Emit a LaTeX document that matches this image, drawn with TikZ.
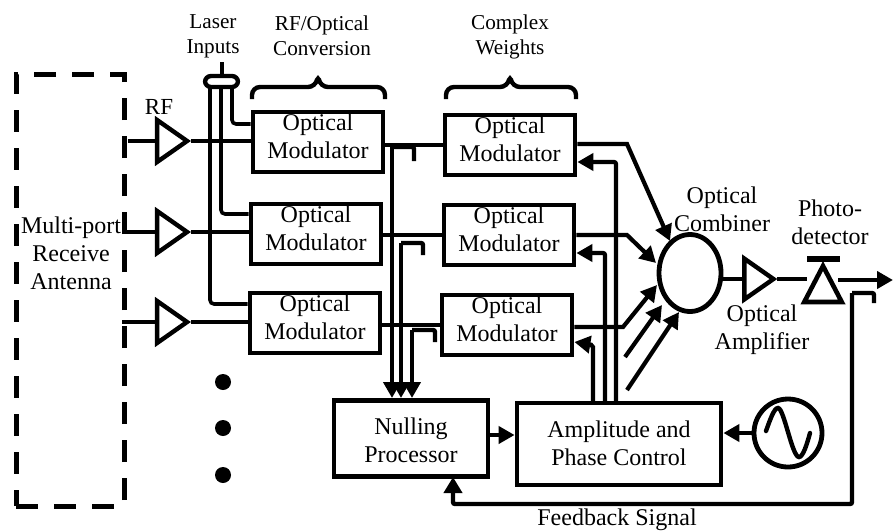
\documentclass[tikz,border=0pt]{standalone}
\usepackage{fontspec}
\setmainfont{Liberation Serif}
\usetikzlibrary{arrows.meta,calc,positioning,shapes.geometric}

\tikzset{
  modbox/.style={draw, line width=2.4pt, minimum width=65pt, minimum height=30pt, inner sep=0pt, align=center},
  procbox/.style={draw, line width=2.4pt, inner sep=0pt, align=center},
  ampl/.style={draw, line width=2.2pt, isosceles triangle, isosceles triangle apex angle=70, inner sep=0pt, minimum height=15pt},
  lbl/.style={align=center, inner sep=0pt},
  toplbl/.style={align=center, inner sep=0pt, font=\fontsize{10.6}{12.6}\selectfont},
  wire/.style={line width=1.8pt},
  bus/.style={line width=2.1pt, -{Triangle[length=8pt,width=8.5pt]}},
  tap/.style={line width=2.2pt, rounded corners=1pt}
}

\begin{document}
\begin{tikzpicture}[x=0.5pt, y=-0.5pt, every node/.style={font=\fontsize{12}{14}\selectfont}]
  \useasboundingbox (0,0) rectangle (893,531);

  % antenna
  \node[draw, line width=2.5pt, minimum width=54pt, minimum height=216pt, dash pattern=on 11pt off 8pt, inner sep=0pt] (antenna) at (70,290) {};
  \node[lbl] (antlabel) at (71,253) {Multi-port\\Receive\\Antenna};
  \coordinate (ant1) at (128,141);
  \coordinate (ant2) at (122,232);
  \coordinate (ant3) at (122,322);

  % modulators, first column and weights
  \foreach \i/\xa/\ya/\xb/\yb in {1/318/142/510/145,2/316/234/509/235,3/315/323/507/325} {
    \node[modbox] (conv\i) at (\xa,\ya) {};
    \node[lbl] at ($(conv\i)+(0,-6)$) {Optical\\Modulator};
    \node[modbox] (wt\i) at (\xb,\yb) {};
    \node[lbl] at ($(wt\i)+(0,-6)$) {Optical\\Modulator};
  }

  % rf amplifiers
  \foreach \i/\y in {1/141,2/232,3/322} {
    \node[ampl] (rf\i) at (168,\y) {};
    \draw[wire] (ant\i) -- (rf\i.west |- ant\i);
    \draw[wire] (rf\i.east) -- (conv\i.west |- rf\i.east);
    \draw[wire] (conv\i.east |- wt\i.west) -- (wt\i.west);
  }
  \node[lbl, font=\fontsize{11.5}{14}\selectfont] (rflabel) at (159,107) {RF};
  \node[toplbl] (laserlabel) at (213,36) {Laser\\Inputs};
  \node[toplbl] (convlabel) at (322,36) {RF/Optical\\Conversion};
  \node[toplbl] (wtlabel) at (510,37) {Complex\\Weights};

  % braces
  \draw[line width=2.2pt, rounded corners=4pt] (252,99) -- (252,87) -- (316,87) -- (318,74) -- (320,87) -- (385,87) -- (385,99);
  \draw[line width=2.2pt, rounded corners=4pt] (446,99) -- (446,87) -- (508,87) -- (510,74) -- (512,87) -- (576,87) -- (576,99);

  % laser feed
  \coordinate (lasertop) at (222,62);
  \draw[tap] (lasertop) -- (222,76);
  \draw[line width=2.2pt, rounded corners=3pt] (205,87) -- (205,76) -- (238,76) -- (238,87) -- cycle;
  \draw[wire, rounded corners=2pt] (232,87) -- (232,124) -- (conv1.west |- 0,124);
  \draw[wire, rounded corners=2pt] (221,87) -- (221,214) -- (conv2.west |- 0,214);
  \draw[wire, rounded corners=2pt] (210,87) -- (210,304) -- (conv3.west |- 0,304);

  % dots
  \foreach \i/\y in {1/382,2/428,3/475} {
    \node[circle, fill, inner sep=0pt, minimum size=8pt] (dot\i) at (223,\y) {};
  }

  % combiner
  \node[draw, ellipse, line width=2.4pt, minimum width=31pt, minimum height=38.5pt, inner sep=0pt] (comb) at (690,273) {};
  \node[lbl] (comblabel) at (722,209) {Optical\\Combiner};
  \node[ampl, minimum height=14.5pt] (oamp) at (755,279) {};
  \node[lbl] (oamplabel) at (762,330) {Optical\\Amplifier};
  \node[lbl] (pdlabel) at (830,222) {Photo-\\detector};
  \node[draw, isosceles triangle, isosceles triangle apex angle=55, shape border rotate=90, line width=2.3pt, minimum height=18pt, inner sep=0pt, anchor=apex] (pd) at (823,261) {};
  \draw[line width=2.8pt] (807,259) -- (840,259);
  \draw[wire] (comb.east |- oamp.west) -- (oamp.west);
  \draw[wire] (oamp.east) -- (807,279);
  \coordinate (outp) at (893,280);
  \draw[bus] (838,280) -- (outp);

  % weights to combiner
  \draw[bus] (wt1.east |- 0,144) -- (627,144) -- (670,241);
  \draw[bus] (wt2.east |- 0,235) -- (627,235) -- (656,263);
  \draw[bus] (wt3.east |- 0,327) -- (623,327) -- (657,285);
  \coordinate (extra1) at (625,357);
  \coordinate (extra2) at (627,390);
  \draw[bus] (extra1) -- (662,305);
  \draw[bus] (extra2) -- (679,312);

  % lower blocks
  \node[procbox, minimum width=77pt, minimum height=38pt] (null) at (411,438.5) {};
  \node[lbl] at ($(null)+(0,2)$) {Nulling\\Processor};
  \node[procbox, minimum width=102pt, minimum height=41pt] (ctrl) at (619,444) {};
  \node[lbl] at ($(ctrl)+(0,-1)$) {Amplitude and\\Phase Control};
  \node[draw, circle, line width=2.4pt, minimum size=34pt, inner sep=0pt] (osc) at (788,433) {};
  \draw[line width=2.2pt, line cap=round] (766,431) .. controls (770,420) and (774,408) .. (778,408) .. controls (784,408) and (792,457) .. (799,457) .. controls (803,457) and (807,444) .. (810,433);
  \draw[bus] (null.east |- 0,435) -- (ctrl.west |- 0,435);
  \draw[bus] (osc.west) -- (ctrl.east |- osc.west);

  % control lines
  \draw[bus, rounded corners=1pt] (593,403) -- (593,345) -- (wt3.east |- 0,342);
  \draw[bus, rounded corners=1pt] (605,403) -- (605,253) -- (wt2.east |- 0,253);
  \draw[bus, rounded corners=1pt] (616,403) -- (616,162) -- (wt1.east |- 0,162);

  % taps
  \draw[tap] (414,161) -- (414,147) -- (392,147);
  \draw[bus] (392,147) -- (392,398);
  \draw[tap] (423,255) -- (423,243) -- (401,243);
  \draw[bus] (401,243) -- (401,398);
  \draw[tap] (435,342) -- (435,330) -- (412,330);
  \draw[bus] (412,330) -- (412,398);

  % feedback
  \draw[tap] (874,303) -- (874,293) -- (852,293);
  \draw[line width=2.2pt, rounded corners=1pt, -{Triangle[length=8pt,width=9pt]}] (852,293) -- (852,504) -- (453,504) -- (453,477);
  \node[lbl] (fblabel) at (617,520) {Feedback Signal};
\end{tikzpicture}
\end{document}
